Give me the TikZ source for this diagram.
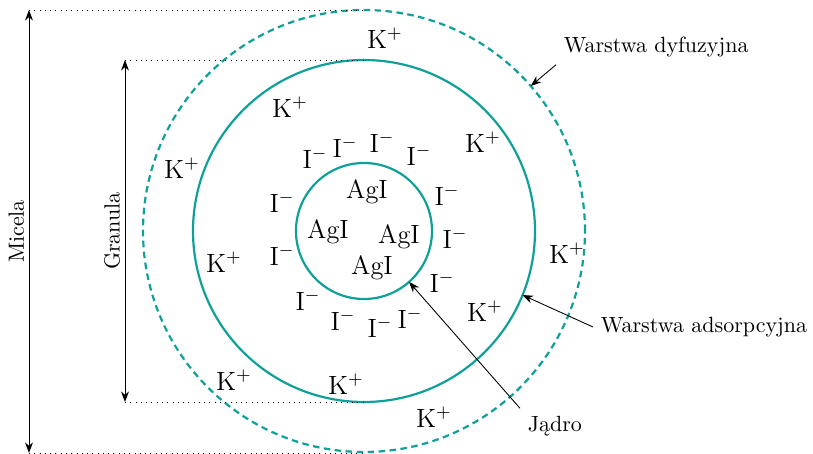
\documentclass[tikz,border=0pt]{standalone}
\usetikzlibrary{arrows.meta}
\definecolor{shellteal}{HTML}{0FA199}

\begin{document}
\begin{tikzpicture}[x=0.4545pt, y=0.4545pt, >=Stealth,
    ion/.style={font=\large},
    shell/.style={shellteal, line width=1pt}]
    \useasboundingbox (-364,231) rectangle (449,-223);

    % Shells
    \draw[shell] (0,0) circle (68);
    \draw[shell] (0,0) circle (171);
    \draw[shell, densely dashed] (0,0) circle (221);

    % Points on the shells
    \coordinate (corept) at (-48.5:68);
    \coordinate (adspt) at (-22:171);
    \coordinate (dyfpt) at (41:221);

    % Dimensions
    \coordinate (micTop) at (-335,221);
    \coordinate (micBot) at (-335,-222);
    \coordinate (granTop) at (-239,171);
    \coordinate (granBot) at (-239,-171);
    \draw[dotted] (micTop) -- (0,221);
    \draw[dotted] (micBot) -- (0,-222);
    \draw[dotted] (granTop) -- (0,171);
    \draw[dotted] (granBot) -- (0,-171);
    \draw[<->] (micBot) -- node[above, sloped, inner sep=2pt] (micela) {Micela} (micTop);
    \draw[<->] (granBot) -- node[above, sloped, inner sep=2pt] (granula) {Granula} (granTop);

    % Core
    \foreach \pos [count=\i] in {(3,39), (-36,-1), (35,-6), (8,-37)}
        \node[ion] (agi\i) at \pos {AgI};

    % Adsorbed ions
    \foreach \pos [count=\i] in {(-49,73), (-19,84), (18,89), (55,76), (83,36), (91,-7),
        (78,-51), (46,-87), (16,-96), (-21,-89), (-56,-69), (-82,-24), (-82,29)}
        \node[ion] (iod\i) at \pos {I$^-$};

    % Counter ions
    \foreach \pos [count=\i] in {(21,193), (-74,124), (-182,63), (119,89), (-140,-31),
        (203,-22), (121,-80), (-130,-149), (-18,-153), (70,-186)}
        \node[ion] (pot\i) at \pos {K$^+$};

    % Labels
    \node[right] (dyf) at (192,184) {Warstwa dyfuzyjna};
    \node[right] (adsorp) at (229,-96) {Warstwa adsorpcyjna};
    \node[right] (jadro) at (156,-195) {Jądro};
    \draw[->] (dyf.south west) -- (dyfpt);
    \draw[->] (adsorp.west) -- (adspt);
    \draw[->] (jadro.north west) -- (corept);

\end{tikzpicture}
\end{document}
